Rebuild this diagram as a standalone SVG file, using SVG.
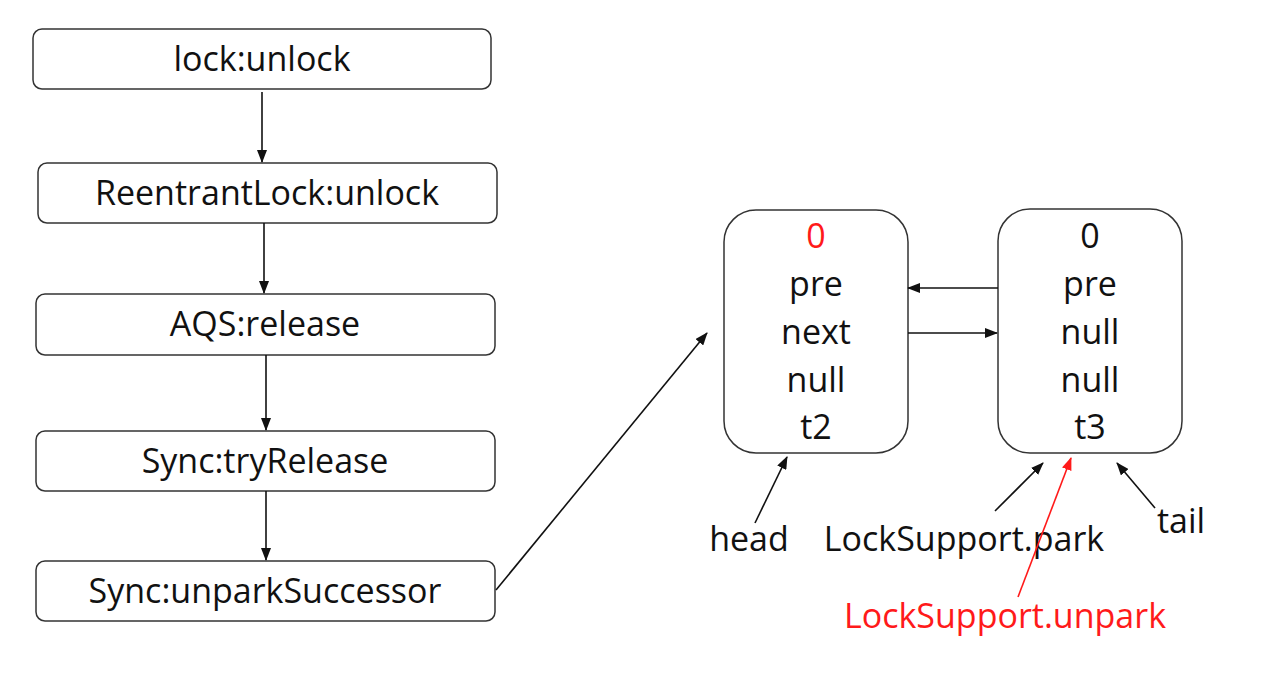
<svg xmlns="http://www.w3.org/2000/svg" width="1270" height="674" viewBox="0 0 1270 674">
<style>
.box{fill:#fff;stroke:#333;stroke-width:1.5}
.t{font-family:"Open Sans","Liberation Sans",sans-serif;font-size:34px;fill:#111;text-anchor:middle}
.red{fill:#ff1a1a}
.c{stroke:#111;stroke-width:1.6;fill:none;marker-end:url(#ah)}
.cr{stroke:#ff1a1a;stroke-width:1.6;fill:none;marker-end:url(#ahr)}
</style>
<defs>
<marker id="ah" markerWidth="13" markerHeight="10" refX="12" refY="5" orient="auto" markerUnits="userSpaceOnUse"><path d="M0,0 L13,5 L0,10 Z" fill="#111"/></marker>
<marker id="ahr" markerWidth="13" markerHeight="10" refX="12" refY="5" orient="auto" markerUnits="userSpaceOnUse"><path d="M0,0 L13,5 L0,10 Z" fill="#ff1a1a"/></marker>
</defs>
<rect width="1270" height="674" fill="#fff"/>
<g id="n1"><rect class="box" x="33" y="29" width="458" height="60" rx="9"/><text class="t" x="262" y="71">lock:unlock</text></g>
<g id="n2"><rect class="box" x="38" y="163" width="459" height="60" rx="9"/><text class="t" x="267" y="205">ReentrantLock:unlock</text></g>
<g id="n3"><rect class="box" x="36" y="294" width="459" height="61" rx="9"/><text class="t" x="265" y="336">AQS:release</text></g>
<g id="n4"><rect class="box" x="36" y="431" width="459" height="60" rx="9"/><text class="t" x="265" y="473">Sync:tryRelease</text></g>
<g id="n5"><rect class="box" x="36" y="561" width="459" height="60" rx="9"/><text class="t" x="265" y="603">Sync:unparkSuccessor</text></g>
<g id="nodeA"><rect class="box" x="724" y="210" width="184" height="243" rx="32"/>
<text class="t red" x="816" y="248">0</text><text class="t" x="816" y="296">pre</text><text class="t" x="816" y="344">next</text><text class="t" x="816" y="392">null</text><text class="t" x="816" y="439">t2</text></g>
<g id="nodeB"><rect class="box" x="998" y="209" width="184" height="244" rx="32"/>
<text class="t" x="1090" y="248">0</text><text class="t" x="1090" y="296">pre</text><text class="t" x="1090" y="344">null</text><text class="t" x="1090" y="392">null</text><text class="t" x="1090" y="439">t3</text></g>
<g id="lhead"><text class="t" x="749" y="551">head</text></g>
<g id="lpark"><text class="t" x="964" y="551">LockSupport.park</text></g>
<g id="ltail"><text class="t" x="1181" y="533">tail</text></g>
<g id="lunpark"><text class="t red" x="1005" y="628">LockSupport.unpark</text></g>
<g id="connectors">
<line class="c" x1="262" y1="92" x2="262" y2="162"/>
<line class="c" x1="264" y1="223" x2="264" y2="293"/>
<line class="c" x1="266" y1="355" x2="266" y2="430"/>
<line class="c" x1="266" y1="491" x2="266" y2="560"/>
<line class="c" x1="496" y1="590" x2="707" y2="333"/>
<line class="c" x1="998" y1="288" x2="908" y2="288"/>
<line class="c" x1="908" y1="333" x2="997" y2="333"/>
<line class="c" x1="755" y1="523" x2="787" y2="457"/>
<line class="c" x1="995" y1="511" x2="1043" y2="463"/>
<line class="cr" x1="1018" y1="597" x2="1071" y2="458"/>
<line class="c" x1="1155" y1="508" x2="1117" y2="463"/>
</g>
</svg>
